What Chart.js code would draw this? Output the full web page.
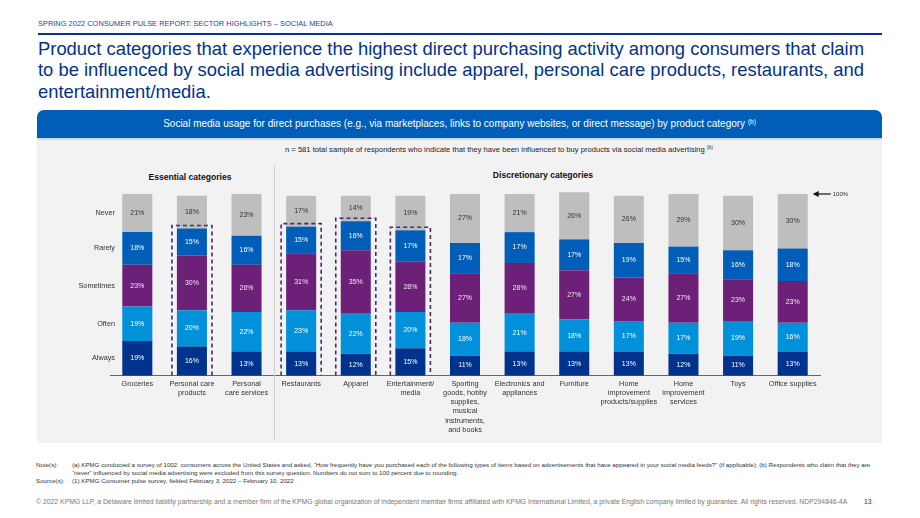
<!DOCTYPE html>
<html>
<head>
<meta charset="utf-8">
<script src="https://cdn.jsdelivr.net/npm/chart.js@4.4.1/dist/chart.umd.min.js"></script>
<style>
  html, body { margin:0; padding:0; background:#fff; }
  body { width:920px; height:518px; position:relative; overflow:hidden; font-family:"Liberation Sans", Arial, sans-serif; }
  .abs { position:absolute; white-space:nowrap; }
  #kicker { left:38px; top:19px; font-size:7.4px; color:#1f3f97; letter-spacing:0.03px; }
  #rule { left:38px; top:33px; width:844px; height:2px; background:#00338D; }
  #title { left:38px; top:38px; font-size:18.4px; line-height:21.3px; color:#00338D; }
  #banner { left:37px; top:110px; width:845px; height:28px; background:#005EB8; border-radius:7px 7px 0 0; }
  #bannerText { left:37px; top:118px; width:845px; text-align:center; font-size:10px; color:#fff; }
  #bannerText sup, #sub sup { font-size:65%; vertical-align:3px; }
  #thin { left:37px; top:138px; width:845px; height:2px; background:#c9dcf2; }
  #panel { left:37px; top:140px; width:845px; height:303px; background:#f2f2f2; }
  #sub { left:0; top:145px; width:998px; text-align:center; font-size:7.6px; color:#222; }
  #ess { left:90px; top:172px; width:200px; text-align:center; font-size:8.6px; font-weight:bold; color:#111; }
  #dis { left:443px; top:170px; width:200px; text-align:center; font-size:8.6px; font-weight:bold; color:#111; }
  #notes { left:36px; top:461px; font-size:6.2px; line-height:8px; color:#333; }
  #notes td { padding:0; vertical-align:top; }
  #footer { left:36px; top:498px; font-size:6.85px; color:#777; }
  #page { left:864px; top:498px; font-size:6.8px; color:#333; }
  canvas { position:absolute; left:0; top:0; pointer-events:none; }
</style>
</head>
<body>
<div class="abs" id="kicker">SPRING 2022 CONSUMER PULSE REPORT: SECTOR HIGHLIGHTS – SOCIAL MEDIA</div>
<div class="abs" id="rule"></div>
<div class="abs" id="title">Product categories that experience the highest direct purchasing activity among consumers that claim<br>to be influenced by social media advertising include apparel, personal care products, restaurants, and<br>entertainment/media.</div>
<div class="abs" id="banner"></div>
<div class="abs" id="bannerText">Social media usage for direct purchases (e.g., via marketplaces, links to company websites, or direct message) by product category <sup>(b)</sup></div>
<div class="abs" id="thin"></div>
<div class="abs" id="panel"></div>
<div class="abs" id="sub">n = 581 total sample of respondents who indicate that they have been influenced to buy products via social media advertising <sup>(b)</sup></div>
<div class="abs" id="ess">Essential categories</div>
<div class="abs" id="dis">Discretionary categories</div>
<div class="abs" id="notes"><table cellspacing="0" cellpadding="0">
<tr><td style="width:36px">Note(s):</td><td>(a) KPMG conducted a survey of 1002&nbsp; consumers across the United States and asked, “How frequently have you purchased each of the following types of items based on advertisements that have appeared in your social media feeds?” (if applicable); (b) Respondents who claim that they are<br>“never” influenced by social media advertising were excluded from this survey question. Numbers do not sum to 100 percent due to rounding.</td></tr>
<tr><td>Source(s):</td><td>(1) KPMG Consumer pulse survey, fielded February 3, 2022 – February 10, 2022</td></tr>
</table></div>
<div class="abs" id="footer">© 2022 KPMG LLP, a Delaware limited liability partnership and a member firm of the KPMG global organization of independent member firms affiliated with KPMG International Limited, a private English company limited by guarantee. All rights reserved. NDP294846-4A</div>
<div class="abs" id="page">13</div>
<canvas id="c" width="920" height="518"></canvas>
<script>
const categories = [
  ["Groceries"],
  ["Personal care", "products"],
  ["Personal", "care services"],
  ["Restaurants"],
  ["Apparel"],
  ["Entertainment/", "media"],
  ["Sporting", "goods, hobby", "supplies,", "musical", "instruments,", "and books"],
  ["Electronics and", "appliances"],
  ["Furniture"],
  ["Home", "improvement", "products/supplies"],
  ["Home", "improvement", "services"],
  ["Toys"],
  ["Office supplies"]
];
const seriesNames = ["Always", "Often", "Sometimes", "Rarely", "Never"];
const always    = [19, 16, 13, 13, 12, 15, 11, 13, 13, 13, 12, 11, 13];
const often     = [19, 20, 22, 23, 22, 20, 18, 21, 18, 17, 17, 19, 16];
const sometimes = [23, 30, 26, 31, 35, 28, 27, 28, 27, 24, 27, 23, 23];
const rarely    = [18, 15, 16, 15, 16, 17, 17, 17, 17, 19, 15, 16, 18];
const never     = [21, 18, 23, 17, 14, 19, 27, 21, 26, 26, 29, 30, 30];
const highlighted = [1, 3, 4, 5];
const essentialCount = 3;

const colors = ["#00338D", "#0091DA", "#6D2077", "#005EB8", "#BEBEBE"];
const labelColors = ["#fff", "#fff", "#f3e6f5", "#fff", "#333"];
const values = [always, often, sometimes, rarely, never];

const overlay = {
  id: "overlay",
  afterDatasetsDraw(chart) {
    const ctx = chart.ctx;
    const ca = chart.chartArea;
    const y = chart.scales.y;
    ctx.save();
    ctx.font = "7px 'Liberation Sans', Arial, sans-serif";
    ctx.textAlign = "center";
    ctx.textBaseline = "middle";
    chart.data.datasets.forEach((ds, di) => {
      const meta = chart.getDatasetMeta(di);
      meta.data.forEach((el, i) => {
        ctx.fillStyle = labelColors[di];
        ctx.fillText(ds.data[i] + "%", el.x, (el.y + el.base) / 2);
      });
    });
    ctx.textAlign = "right";
    ctx.fillStyle = "#333";
    ctx.font = "7.3px 'Liberation Sans', Arial, sans-serif";
    chart.data.datasets.forEach((ds, di) => {
      const el = chart.getDatasetMeta(di).data[0];
      ctx.fillText(ds.label, ca.left + 5, (el.y + el.base) / 2);
    });
    ctx.strokeStyle = "#4a2a6a";
    ctx.lineWidth = 1.6;
    ctx.setLineDash([4, 3]);
    const rMeta = chart.getDatasetMeta(3);
    highlighted.forEach(i => {
      const el = rMeta.data[i];
      const l = el.x - el.width / 2 - 5, r = el.x + el.width / 2 + 5;
      const t = el.y - 3, b = y.getPixelForValue(0);
      ctx.beginPath();
      ctx.moveTo(l, b); ctx.lineTo(l, t); ctx.lineTo(r, t); ctx.lineTo(r, b);
      ctx.stroke();
    });
    ctx.setLineDash([]);
    const x0 = chart.scales.x.getPixelForValue(essentialCount - 1);
    const x1 = chart.scales.x.getPixelForValue(essentialCount);
    const xd = Math.round((x0 + x1) / 2) + 0.5;
    ctx.strokeStyle = "#cfcfcf";
    ctx.lineWidth = 1;
    ctx.beginPath(); ctx.moveTo(xd, 165); ctx.lineTo(xd, 440); ctx.stroke();
    const lastEl = chart.getDatasetMeta(4).data[categories.length - 1];
    const ay = y.getPixelForValue(100);
    const ax = lastEl.x + lastEl.width / 2 + 5;
    ctx.strokeStyle = "#111"; ctx.fillStyle = "#111"; ctx.lineWidth = 1.2;
    ctx.beginPath(); ctx.moveTo(ax + 4, ay); ctx.lineTo(ax + 18, ay); ctx.stroke();
    ctx.beginPath(); ctx.moveTo(ax, ay); ctx.lineTo(ax + 6, ay - 3); ctx.lineTo(ax + 6, ay + 3); ctx.closePath(); ctx.fill();
    ctx.textAlign = "left";
    ctx.fillStyle = "#333";
    ctx.font = "6px 'Liberation Sans', Arial, sans-serif";
    ctx.fillText("100%", ax + 20, ay);
    ctx.restore();
  }
};

new Chart(document.getElementById("c"), {
  type: "bar",
  data: {
    labels: categories,
    datasets: seriesNames.map((name, i) => ({
      label: name,
      data: values[i],
      backgroundColor: colors[i],
      borderWidth: 0,
      barPercentage: 0.55,
      categoryPercentage: 1.0,
      clip: false
    }))
  },
  options: {
    responsive: false,
    animation: false,
    events: [],
    layout: { padding: { left: 110, right: 100, top: 194, bottom: 72.5 } },
    plugins: { legend: { display: false }, tooltip: { enabled: false } },
    scales: {
      x: {
        stacked: true,
        grid: { display: false, drawTicks: false },
        border: { display: true, color: "#666", width: 1 },
        ticks: {
          padding: 4,
          maxRotation: 0,
          autoSkip: false,
          color: "#333",
          font: { family: "'Liberation Sans', Arial, sans-serif", size: 7.3, lineHeight: 1.25 }
        },
        afterFit(s) { s.height = 70; }
      },
      y: {
        stacked: true,
        display: false,
        min: 0,
        max: 100
      }
    }
  },
  plugins: [overlay]
});
</script>
</body>
</html>
